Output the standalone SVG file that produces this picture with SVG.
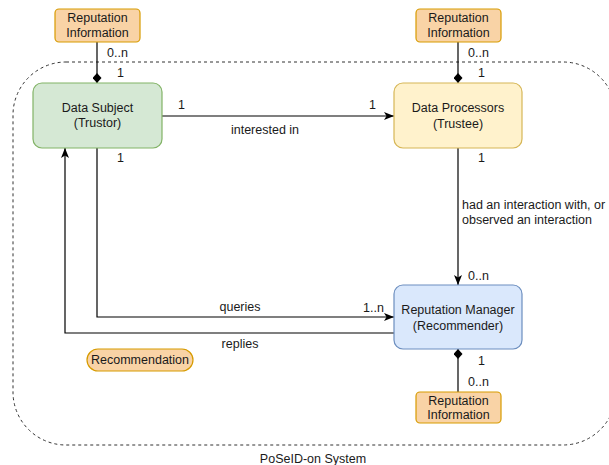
<svg xmlns="http://www.w3.org/2000/svg" width="609" height="465" viewBox="0 0 609 465">
<style>
text{font-family:"Liberation Sans",Arial,sans-serif;font-size:12.5px;fill:#1a1a1a}
.c{text-anchor:middle}
.ri{fill:#f9d3a6;stroke:#d79b00;stroke-width:1.2}
.ln{fill:none;stroke:#000;stroke-width:1.2}
</style>
<defs>
<marker id="arr" viewBox="0 0 10 8" refX="10" refY="4" markerWidth="10" markerHeight="8" markerUnits="userSpaceOnUse" orient="auto">
<path d="M0,0 L10,4 L0,8 L2.5,4 z" fill="#000"/>
</marker>
<marker id="dia" viewBox="0 0 10 9" refX="10" refY="4.5" markerWidth="10" markerHeight="9" markerUnits="userSpaceOnUse" orient="auto">
<path d="M0,4.5 L5,0 L10,4.5 L5,9 z" fill="#000"/>
</marker>
</defs>
<g id="system">
<rect x="13" y="62" width="603" height="383" rx="53" fill="none" stroke="#333" stroke-dasharray="3 3"/>
<text class="c" x="313" y="463">PoSeID-on System</text>
</g>
<g id="connectors">
<path class="ln" d="M97,42 V83" marker-end="url(#dia)"/>
<path class="ln" d="M458,42 V83" marker-end="url(#dia)"/>
<path class="ln" d="M458,392 V349" marker-end="url(#dia)"/>
<path class="ln" d="M162,116 H394" marker-end="url(#arr)"/>
<path class="ln" d="M458,148 V285" marker-end="url(#arr)"/>
<path class="ln" d="M97,148 V317 H394" marker-end="url(#arr)"/>
<path class="ln" d="M394,333 H65 V148" marker-end="url(#arr)"/>
<text x="107" y="57">0..n</text>
<text x="117" y="77">1</text>
<text x="468" y="57">0..n</text>
<text x="478" y="77">1</text>
<text x="178" y="109">1</text>
<text x="369" y="109">1</text>
<text class="c" x="265" y="134">interested in</text>
<text x="117" y="162">1</text>
<text x="478" y="162">1</text>
<text x="462" y="209">had an interaction with, or</text>
<text x="462" y="224">observed an interaction</text>
<text x="468" y="280">0..n</text>
<text class="c" x="240" y="311">queries</text>
<text x="363" y="312">1..n</text>
<text class="c" x="240" y="348">replies</text>
<text x="478" y="365">1</text>
<text x="468" y="386">0..n</text>
</g>
<g id="ri-top-left">
<rect class="ri" x="55" y="9" width="85" height="33" rx="4"/>
<text class="c" x="97.5" y="22">Reputation</text>
<text class="c" x="97.5" y="37">Information</text>
</g>
<g id="ri-top-right">
<rect class="ri" x="416" y="9" width="85" height="33" rx="4"/>
<text class="c" x="458.5" y="22">Reputation</text>
<text class="c" x="458.5" y="37">Information</text>
</g>
<g id="ri-bottom">
<rect class="ri" x="416" y="392" width="85" height="31" rx="4"/>
<text class="c" x="458.5" y="405">Reputation</text>
<text class="c" x="458.5" y="419">Information</text>
</g>
<g id="data-subject">
<rect x="33" y="83" width="129" height="65" rx="9" fill="#d5e8d4" stroke="#82b366" stroke-width="1.2"/>
<text class="c" x="97.5" y="112">Data Subject</text>
<text class="c" x="97.5" y="127">(Trustor)</text>
</g>
<g id="data-processors">
<rect x="394" y="83" width="128" height="65" rx="9" fill="#fff2cc" stroke="#d6b656" stroke-width="1.2"/>
<text class="c" x="458" y="112">Data Processors</text>
<text class="c" x="458" y="128">(Trustee)</text>
</g>
<g id="reputation-manager">
<rect x="394" y="285" width="128" height="64" rx="9" fill="#dae8fc" stroke="#6c8ebf" stroke-width="1.2"/>
<text class="c" x="458" y="314">Reputation Manager</text>
<text class="c" x="458" y="330">(Recommender)</text>
</g>
<g id="recommendation">
<rect class="ri" x="87" y="349" width="106" height="22" rx="11"/>
<text class="c" x="140" y="364">Recommendation</text>
</g>
</svg>
